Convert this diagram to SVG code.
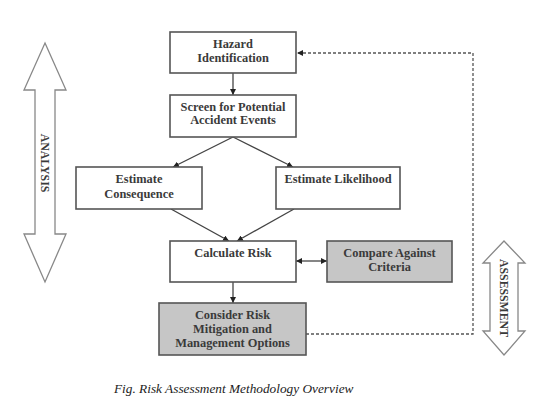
<svg xmlns="http://www.w3.org/2000/svg" width="548" height="405" viewBox="0 0 548 405">
<style>
.box{fill:#fff;stroke:#555;stroke-width:1.6}
.gray{fill:#c6c6c6;stroke:#555;stroke-width:1.6}
.t{font-family:"Liberation Serif",serif;font-weight:bold;font-size:12.4px;fill:#3a3a3a;text-anchor:middle}
.c{stroke:#444;stroke-width:1.3;fill:none}
.d{stroke:#555;stroke-width:1.3;fill:none;stroke-dasharray:3,2}
.big{fill:#fff;stroke:#888;stroke-width:1.3}
.v{font-family:"Liberation Serif",serif;font-weight:bold;font-size:11.8px;fill:#3a3a3a;text-anchor:middle}
.cap{font-family:"Liberation Serif",serif;font-style:italic;font-size:13.3px;fill:#222}
</style>
<defs>
<marker id="ah" viewBox="0 0 10 10" refX="10" refY="5" markerWidth="6" markerHeight="6" orient="auto-start-reverse" markerUnits="userSpaceOnUse">
<path d="M0,0 L10,5 L0,10 Z" fill="#222"/>
</marker>
</defs>
<rect width="548" height="405" fill="#fff"/>

<g id="analysis">
<polygon class="big" points="45,43 66,90 55,90 55,234 66,234 45,282 24,234 35,234 35,90 24,90"/>
<text class="v" transform="translate(41,163) rotate(90)">ANALYSIS</text>
</g>
<g id="assessment">
<polygon class="big" points="504,241 525,263 518,263 518,331 525,331 504,355 483,331 490,331 490,263 483,263"/>
<text class="v" transform="translate(500,298) rotate(90)">ASSESSMENT</text>
</g>

<g id="connectors">
<line class="c" x1="233" y1="73" x2="233" y2="95" marker-end="url(#ah)"/>
<line class="c" x1="233" y1="137" x2="173" y2="167" marker-end="url(#ah)"/>
<line class="c" x1="233" y1="137" x2="293" y2="167" marker-end="url(#ah)"/>
<line class="c" x1="171" y1="209" x2="229" y2="241" marker-end="url(#ah)"/>
<line class="c" x1="294" y1="209" x2="237" y2="241" marker-end="url(#ah)"/>
<line class="c" x1="296" y1="261" x2="327" y2="261" marker-start="url(#ah)" marker-end="url(#ah)"/>
<line class="c" x1="233" y1="282" x2="233" y2="303" marker-end="url(#ah)"/>
<polyline class="d" points="306,334 473,334 473,53 297,53" marker-end="url(#ah)"/>
</g>

<g id="hazard">
<rect class="box" x="170" y="32" width="126" height="41"/>
<text class="t" x="233" y="48">Hazard</text>
<text class="t" x="233" y="62">Identification</text>
</g>
<g id="screen">
<rect class="box" x="170" y="95" width="126" height="42"/>
<text class="t" x="233" y="111">Screen for Potential</text>
<text class="t" x="233" y="124">Accident Events</text>
</g>
<g id="consequence">
<rect class="box" x="76" y="167" width="126" height="42"/>
<text class="t" x="139" y="183">Estimate</text>
<text class="t" x="139" y="198">Consequence</text>
</g>
<g id="likelihood">
<rect class="box" x="276" y="167" width="124" height="42"/>
<text class="t" x="338" y="183">Estimate Likelihood</text>
</g>
<g id="calculate">
<rect class="box" x="170" y="241" width="126" height="41"/>
<text class="t" x="233" y="257">Calculate Risk</text>
</g>
<g id="compare">
<rect class="gray" x="327" y="241" width="125" height="41"/>
<text class="t" x="389.5" y="257">Compare Against</text>
<text class="t" x="389.5" y="271">Criteria</text>
</g>
<g id="consider">
<rect class="gray" x="159" y="303" width="147" height="52"/>
<text class="t" x="232.5" y="319">Consider Risk</text>
<text class="t" x="232.5" y="333">Mitigation and</text>
<text class="t" x="232.5" y="347">Management Options</text>
</g>

<text class="cap" x="114" y="393">Fig. Risk Assessment Methodology Overview</text>
</svg>
